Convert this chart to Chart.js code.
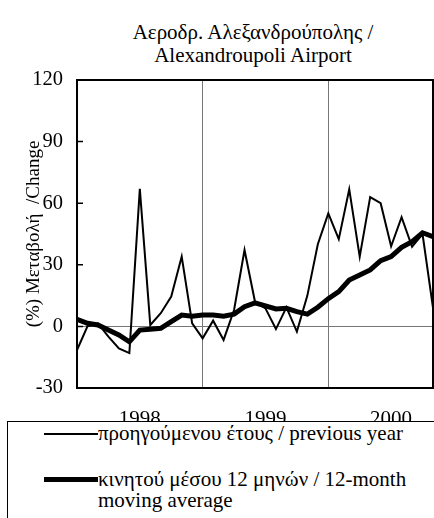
<!DOCTYPE html>
<html>
<head>
<meta charset="utf-8">
<script src="https://cdn.jsdelivr.net/npm/chart.js@4/dist/chart.umd.min.js"></script>
<style>
  html, body { margin: 0; padding: 0; background: #fff; }
  body { width: 434px; height: 518px; position: relative; overflow: hidden;
         font-family: "Liberation Serif", "Times New Roman", serif; color: #000; }
  #title { position: absolute; left: 53px; width: 400px; top: 21px; text-align: center;
           font-size: 21px; line-height: 23px; }
  #wrap { position: absolute; left: 0; top: 0; width: 434px; height: 430px; }
  #legend { position: absolute; left: 7px; top: 421px; width: 440px; height: 120px;
            background: #fff; border: 1px solid #000; box-sizing: border-box;
            font-size: 21px; line-height: 21px; }
  .item { position: absolute; left: 36px; display: flex; align-items: flex-start; }
  .swatch { width: 54px; flex: none; background: #000; }
  .label { width: 330px; }
</style>
</head>
<body>
<div id="title">Αεροδρ. Αλεξανδρούπολης /<br>Alexandroupoli Airport</div>
<div id="wrap"><canvas id="chart" width="434" height="430"></canvas></div>
<div id="legend">
  <div class="item" style="top:1px"><span class="swatch" style="height:2px;margin-top:10px"></span><span class="label">προηγούμενου έτους / previous year</span></div>
  <div class="item" style="top:47px"><span class="swatch" style="height:5px;margin-top:8px"></span><span class="label">κινητού μέσου 12 μηνών / 12-month moving average</span></div>
</div>
<script>
// monthly % change vs same month of previous year (Jan 1998 .. Nov 2000)
const prevYear = [-11.5, 0, 1.5, -5, -10.7, -13, 67, 0.7, 6.4, 14.5, 34, 1.5,
  -5.8, 2.8, -6.6, 8, 37.2, 12, 8.8, -1.3, 9.3, -2.5, 15, 40,
  55, 42.5, 66.8, 34, 63, 60, 39, 53.2, 38.8, 45, 9];
// 12-month moving average
const movingAvg = [3.5, 1.5, 0.7, -1.8, -4.2, -7.5, -1.8, -1.4, -0.9, 2.3, 5.5, 5,
  5.5, 5.5, 5, 6, 9.6, 11.5, 10, 8.5, 8.8, 7.2, 6, 9.3,
  13.5, 16.9, 22.6, 25, 27.5, 32, 34, 38.5, 41.3, 45.6, 43.7];

const yearLabels = ["1998", "1999", "2000"];
const yearStarts = [0, 12, 24];
const yTicks = [-30, 0, 30, 60, 90, 120];

const toPoints = (arr) => arr.map((v, i) => ({ x: i, y: v }));
const font = { family: "'Liberation Serif', 'Times New Roman', serif", size: 21 };

const frame = {
  id: "frame",
  afterDatasetsDraw(chart) {
    const { ctx, chartArea: a, scales } = chart;
    ctx.save();
    ctx.strokeStyle = "#000";
    ctx.lineWidth = 1.5;
    ctx.beginPath();
    yTicks.forEach((v) => {
      const y = scales.y.getPixelForValue(v);
      ctx.moveTo(a.left, y);
      ctx.lineTo(a.left + 6, y);
    });
    ctx.stroke();
    ctx.lineWidth = 2;
    ctx.strokeRect(a.left, a.top, a.right - a.left, a.bottom - a.top);
    ctx.restore();
  },
};

new Chart(document.getElementById("chart"), {
  type: "line",
  data: {
    datasets: [
      { data: toPoints(prevYear), borderColor: "#000", borderWidth: 2, pointRadius: 0, tension: 0 },
      { data: toPoints(movingAvg), borderColor: "#000", borderWidth: 5, pointRadius: 0, tension: 0 },
    ],
  },
  options: {
    animation: false,
    responsive: false,
    layout: { padding: { top: 80, right: 1, left: 0, bottom: 0 } },
    plugins: { legend: { display: false }, tooltip: { enabled: false } },
    scales: {
      x: {
        type: "linear",
        min: 0,
        max: prevYear.length - 1,
        afterBuildTicks: (scale) => {
          scale.ticks = [0, 6, 12, 18, 24, 30].map((v) => ({ value: v }));
        },
        afterFit: (scale) => { scale.height = 42; },
        ticks: {
          autoSkip: false,
          maxRotation: 0,
          padding: 19,
          color: "#000",
          font,
          callback: (v) => {
            const i = yearStarts.indexOf(v - 6);
            return i >= 0 ? yearLabels[i] : "";
          },
        },
        grid: {
          drawTicks: false,
          color: (c) => (c.tick && yearStarts.indexOf(c.tick.value) > 0 ? "#777" : "rgba(0,0,0,0)"),
          lineWidth: 1,
        },
        border: { display: false },
      },
      y: {
        min: -30,
        max: 120,
        afterBuildTicks: (scale) => {
          scale.ticks = yTicks.map((v) => ({ value: v }));
        },
        afterFit: (scale) => { scale.width = 77; },
        ticks: { color: "#000", font: { ...font, size: 20.5 }, padding: 14 },
        grid: {
          drawTicks: false,
          color: (c) => (c.tick && c.tick.value === 0 ? "#777" : "rgba(0,0,0,0)"),
          lineWidth: 1,
        },
        border: { display: false },
        title: {
          display: true,
          text: "(%) Μεταβολή  /Change",
          color: "#000",
          font: { ...font, size: 19, lineHeight: 1 },
          padding: { top: 25, bottom: 0 },
        },
      },
    },
  },
  plugins: [frame],
});
</script>
</body>
</html>
